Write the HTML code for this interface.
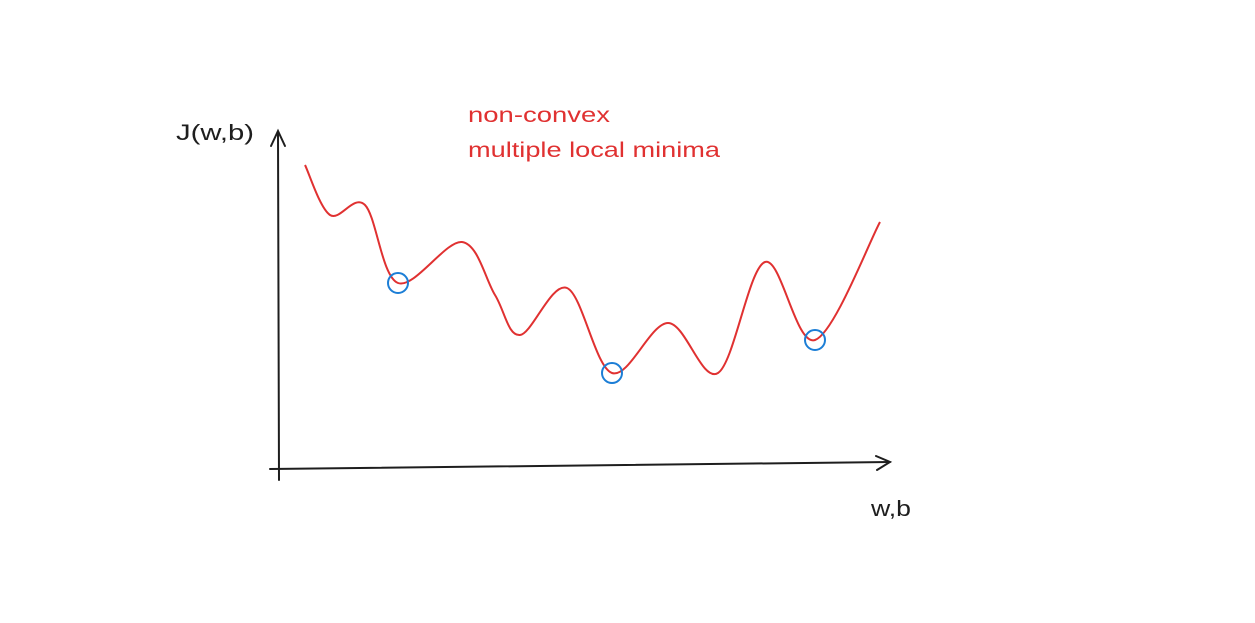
<!DOCTYPE html>
<html><head><meta charset="utf-8"><style>
html,body{margin:0;padding:0;background:#fff;}
svg{display:block;}
text{font-family:"Liberation Sans",sans-serif;}
</style></head><body>
<svg id="chart" width="1255" height="623" viewBox="0 0 1255 623">
  <g stroke="#1e1e1e" stroke-width="2" fill="none" stroke-linecap="round">
    <path d="M279 480 L278 132"/>
    <path d="M271 146 L278 131 L285 146"/>
  </g>
  <g stroke="#1e1e1e" stroke-width="2" fill="none" stroke-linecap="round">
    <path d="M270 469 L890 462"/>
    <path d="M876 456 L890 462 L877 470"/>
  </g>
  <text x="176" y="140" font-size="22" fill="#1e1e1e" textLength="78" lengthAdjust="spacingAndGlyphs">J(w,b)</text>
  <text x="871" y="516" font-size="22" fill="#1e1e1e" textLength="40" lengthAdjust="spacingAndGlyphs">w,b</text>
  <text x="468" y="122" font-size="21" fill="#e03131" textLength="142" lengthAdjust="spacingAndGlyphs">non-convex</text>
  <text x="468" y="157" font-size="21" fill="#e03131" textLength="252" lengthAdjust="spacingAndGlyphs">multiple local minima</text>
  <g id="plot"></g>
</svg>
<script>
const xVals=[27,52,87,120,184,217,242,289,334,390,440,487,537,602];
const yVals=[303,253,263,185,226,173,133,180,95,145,95,206,128,246];
const minimaIdx=[3,8,12];
const X0=278,Y0=468;
function sx(v){return X0+v;}
function sy(v){return Y0-v;}
const plot=document.getElementById('plot');
const ns='http://www.w3.org/2000/svg';
const pts=xVals.map((x,i)=>[sx(x),sy(yVals[i])]);
let d='M'+pts[0][0]+' '+pts[0][1];
for(let i=0;i<pts.length-1;i++){
  const p0=pts[Math.max(0,i-1)],p1=pts[i],p2=pts[i+1],p3=pts[Math.min(pts.length-1,i+2)];
  const c1=[p1[0]+(p2[0]-p0[0])/6,p1[1]+(p2[1]-p0[1])/6];
  const c2=[p2[0]-(p3[0]-p1[0])/6,p2[1]-(p3[1]-p1[1])/6];
  d+=' C'+c1[0]+' '+c1[1]+' '+c2[0]+' '+c2[1]+' '+p2[0]+' '+p2[1];
}
const path=document.createElementNS(ns,'path');
path.setAttribute('d',d);
path.setAttribute('fill','none');
path.setAttribute('stroke','#e03131');
path.setAttribute('stroke-width','2');


plot.appendChild(path);
minimaIdx.forEach(i=>{
  const c=document.createElementNS(ns,'circle');
  c.setAttribute('cx',sx(xVals[i]));
  c.setAttribute('cy',sy(yVals[i]));
  c.setAttribute('r','10');
  c.setAttribute('fill','none');
  c.setAttribute('stroke','#1c7ed6');
  c.setAttribute('stroke-width','2');
  
  
  plot.appendChild(c);
});
</script>
</body></html>
